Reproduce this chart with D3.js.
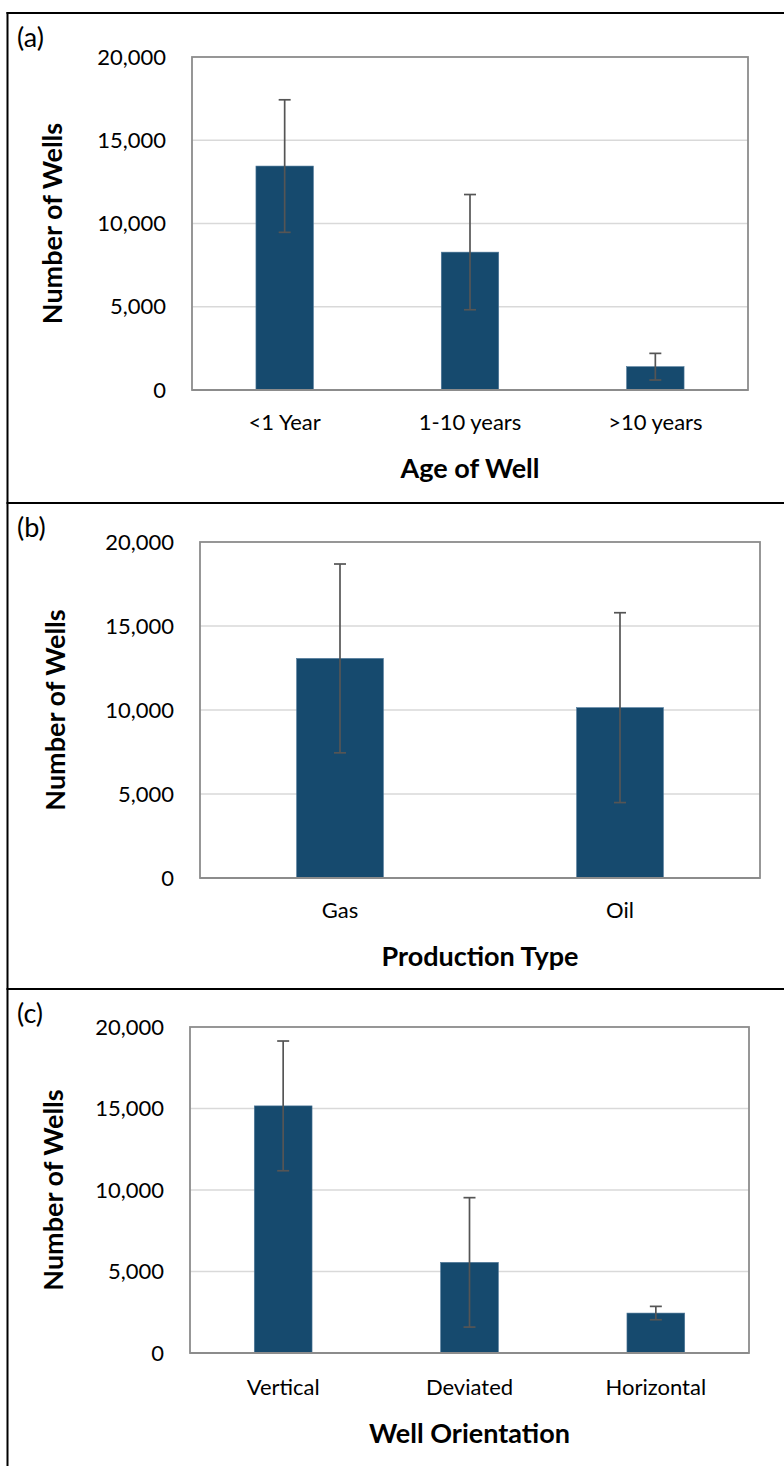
<!DOCTYPE html>
<html>
<head>
<meta charset="utf-8">
<script src="https://cdn.jsdelivr.net/npm/d3@7"></script>
<style>
  html, body { margin: 0; padding: 0; background: #fff; }
  svg { display: block; }
  text { font-family: Lato, "Open Sans", sans-serif; fill: #000; }
</style>
</head>
<body>
<div id="chart"></div>
<script>
// ---------- data ----------
const panelTags = ["(a)", "(b)", "(c)"];
const yTitle = "Number of Wells";
const yTicks = [0, 5000, 10000, 15000, 20000];

const ageLabels = ["<1 Year", "1-10 years", ">10 years"];
const ageValues = [13450, 8280, 1400];
const ageErrors = [3980, 3460, 800];

const prodLabels = ["Gas", "Oil"];
const prodValues = [13070, 10140];
const prodErrors = [5620, 5650];

const orientLabels = ["Vertical", "Deviated", "Horizontal"];
const orientValues = [15160, 5560, 2450];
const orientErrors = [3980, 3970, 410];

const xTitles = ["Age of Well", "Production Type", "Well Orientation"];

// ---------- layout ----------
const W = 784, H = 1466;
const svg = d3.select("#chart").append("svg").attr("width", W).attr("height", H);

const panels = [
  { tag: panelTags[0], labels: ageLabels, values: ageValues, errors: ageErrors, title: xTitles[0],
    top: 13, plot: { l: 192, r: 748, t: 57, b: 390 }, yTitleX: 62, catOff: 40, titleOff: 88 },
  { tag: panelTags[1], labels: prodLabels, values: prodValues, errors: prodErrors, title: xTitles[1],
    top: 503, plot: { l: 200, r: 760, t: 542, b: 878 }, yTitleX: 65, catOff: 40, titleOff: 88 },
  { tag: panelTags[2], labels: orientLabels, values: orientValues, errors: orientErrors, title: xTitles[2],
    top: 989, plot: { l: 190, r: 749, t: 1027, b: 1353 }, yTitleX: 63, catOff: 42, titleOff: 90 }
];

const barColor = "#164a6e";
const fmt = d3.format(",");

// outer frame lines
svg.append("line").attr("x1", 7.5).attr("x2", 7.5).attr("y1", 12).attr("y2", H)
  .attr("stroke", "#000").attr("stroke-width", 2);
panels.forEach(p => {
  svg.append("line").attr("x1", 6.5).attr("x2", W).attr("y1", p.top).attr("y2", p.top)
    .attr("stroke", "#000").attr("stroke-width", 2);
});

panels.forEach(p => {
  const g = svg.append("g");
  const P = p.plot;
  const y = d3.scaleLinear().domain([0, 20000]).range([P.b, P.t]);
  const x = d3.scaleBand().domain(p.labels).range([P.l, P.r]).paddingInner(0.69).paddingOuter(0.345);

  // gridlines
  g.append("g").selectAll("line").data(yTicks.filter(t => t > 0 && t < 20000)).join("line")
    .attr("x1", P.l).attr("x2", P.r)
    .attr("y1", d => y(d)).attr("y2", d => y(d))
    .attr("stroke", "#d9d9d9").attr("stroke-width", 1.5);

  // y axis tick labels
  const yAxis = d3.axisLeft(y).tickValues(yTicks).tickFormat(fmt).tickSize(0).tickPadding(26);
  const ya = g.append("g").attr("transform", `translate(${P.l},0)`).call(yAxis);
  ya.select(".domain").remove();
  ya.selectAll("text").attr("font-size", 22).attr("font-family", "Lato, sans-serif").attr("fill", "#000");

  // bars
  g.append("g").selectAll("rect").data(p.values).join("rect")
    .attr("x", (d, i) => x(p.labels[i]))
    .attr("width", x.bandwidth())
    .attr("y", d => y(d))
    .attr("height", d => y(0) - y(d))
    .attr("fill", barColor)
    .attr("stroke", "#4f7899").attr("stroke-width", 0.6);

  // plot frame
  g.append("rect").attr("x", P.l).attr("y", P.t).attr("width", P.r - P.l).attr("height", P.b - P.t)
    .attr("fill", "none").attr("stroke", "#8c8c8c").attr("stroke-width", 1.8);
  g.append("line").attr("x1", P.l).attr("x2", P.r).attr("y1", P.b).attr("y2", P.b)
    .attr("stroke", "#8c8c8c").attr("stroke-width", 2.2);

  // error bars
  const eg = g.append("g").attr("stroke", "#555555").attr("stroke-width", 1.7).attr("fill", "none");
  p.values.forEach((v, i) => {
    const cx = x(p.labels[i]) + x.bandwidth() / 2;
    const hi = y(v + p.errors[i]), lo = y(v - p.errors[i]);
    eg.append("line").attr("x1", cx).attr("x2", cx).attr("y1", hi).attr("y2", lo);
    eg.append("line").attr("x1", cx - 6).attr("x2", cx + 6).attr("y1", hi).attr("y2", hi);
    eg.append("line").attr("x1", cx - 6).attr("x2", cx + 6).attr("y1", lo).attr("y2", lo);
  });

  // x axis category labels
  const xAxis = d3.axisBottom(x).tickSize(0).tickPadding(0);
  const xa = g.append("g").attr("transform", `translate(0,${P.b})`).call(xAxis);
  xa.select(".domain").remove();
  xa.selectAll("text").attr("font-size", 22).attr("font-family", "Lato, sans-serif").attr("fill", "#000")
    .attr("dy", null).attr("y", p.catOff);

  // x title
  g.append("text").attr("x", (P.l + P.r) / 2).attr("y", P.b + p.titleOff)
    .attr("text-anchor", "middle").attr("font-size", 27).attr("font-weight", "bold")
    .text(p.title);

  // y title
  g.append("text")
    .attr("transform", `translate(${p.yTitleX},${(P.t + P.b) / 2}) rotate(-90)`)
    .attr("text-anchor", "middle").attr("font-size", 27).attr("font-weight", "bold")
    .text(yTitle);

  // panel tag
  g.append("text").attr("x", 17).attr("y", p.top + 34).attr("font-size", 27).text(p.tag);
});
</script>
</body>
</html>
